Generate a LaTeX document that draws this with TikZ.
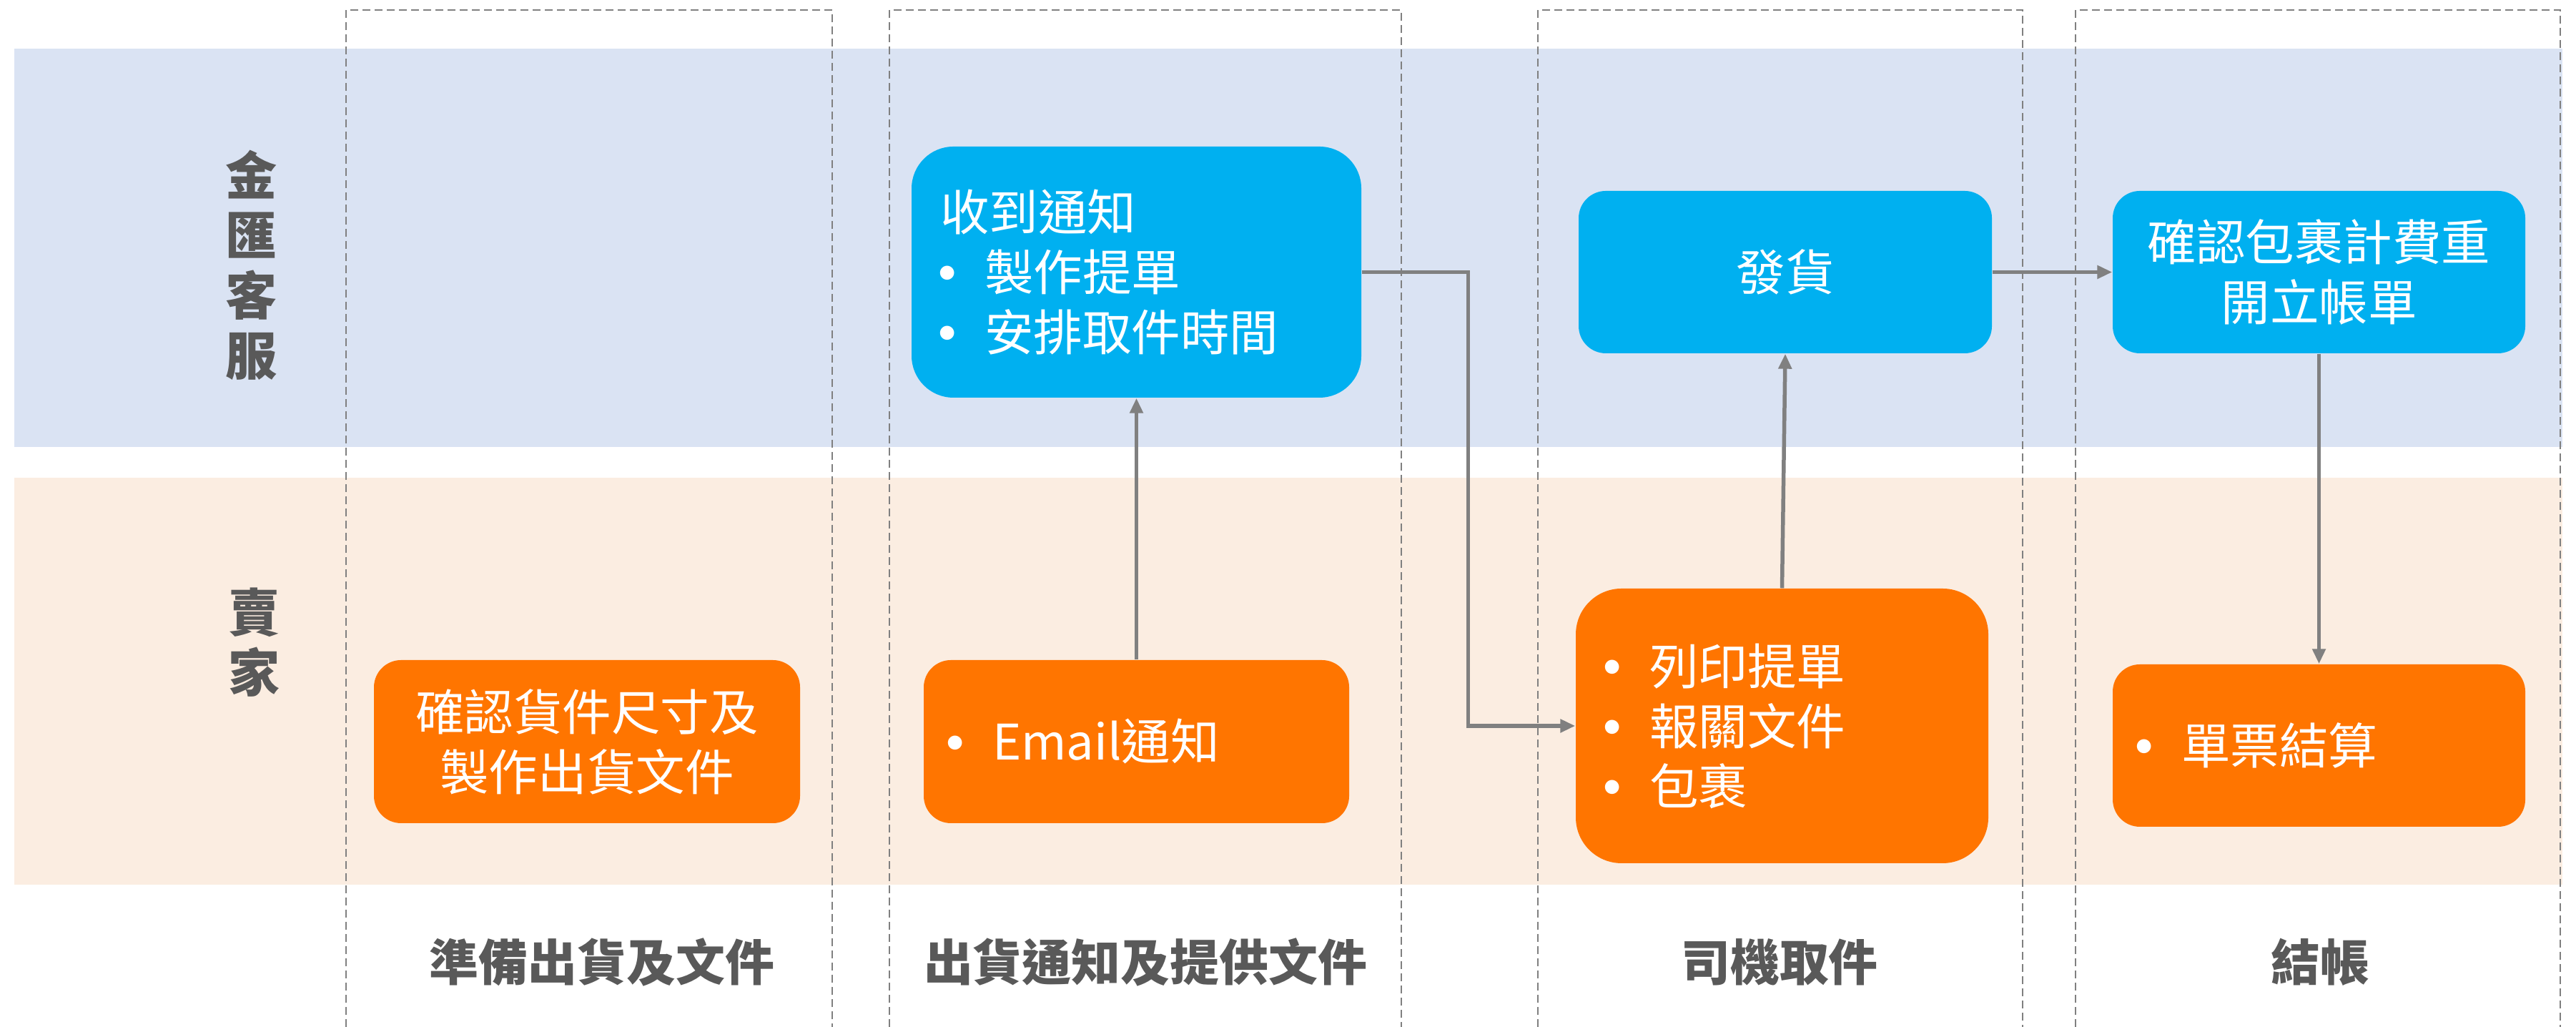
\documentclass[tikz,border=0pt]{standalone}
\usepackage{fontspec}
\setmainfont{Noto Sans CJK TC}
\usepackage{tikz}
\usetikzlibrary{arrows.meta,calc}

\definecolor{laneblue}{HTML}{DAE3F3}
\definecolor{lanepeach}{HTML}{FBEDE1}
\definecolor{boxblue}{HTML}{00B0F0}
\definecolor{boxorange}{HTML}{FF7500}
\definecolor{labelgray}{HTML}{595959}
\definecolor{linegray}{HTML}{808080}

\newcommand{\bul}{\makebox[0.62cm][l]{\hspace{-0.03cm}\raisebox{3.4pt}{\fontsize{15}{15}\selectfont$\bullet$}}}

\begin{document}
\begin{tikzpicture}[
    box/.style={text=white, font=\fontsize{19.5}{23.9}\selectfont, inner ysep=0pt},
    bluebox/.style={box, fill=boxblue},
    orangebox/.style={box, fill=boxorange},
    lane/.style={draw=linegray, line width=0.02cm, dash pattern=on 0.11cm off 0.06cm},
    flow/.style={draw=linegray, line width=0.055cm, -{Triangle[length=0.21cm,width=0.18cm]}},
    side/.style={text=labelgray, font=\fontsize{20.5}{23.9}\selectfont\bfseries, align=center},
    stage/.style={text=labelgray, font=\fontsize{19.6}{24}\selectfont\bfseries}
  ]
  \useasboundingbox (0,0) rectangle (36.03,14.36);
  % 泳道底色
  \fill[laneblue] (0.20,8.11) rectangle (35.84,13.68);
  \fill[lanepeach] (0.20,1.99) rectangle (35.84,7.68);
  % 階段虛線框
  \draw[lane] (4.84,0) |- (11.64,14.22) -- (11.64,0);
  \draw[lane] (12.44,0) |- (19.60,14.22) -- (19.60,0);
  \draw[lane] (21.51,0) |- (28.29,14.22) -- (28.29,0);
  \draw[lane] (29.03,0) |- (35.81,14.22) -- (35.81,0);
  % 角色
  \node[side] (cs) at (3.52,10.65) {金\\匯\\客\\服};
  \node[side] (seller) at (3.56,5.38) {賣\\家};
  % 步驟
  \node[orangebox, align=center, minimum width=5.96cm, minimum height=2.28cm, rounded corners=0.38cm] (prep) at (8.21,3.99) {確認貨件尺寸及\\製作出貨文件};
  \node[orangebox, align=left, text width=5.27cm, inner xsep=0.34cm, minimum height=2.28cm, rounded corners=0.38cm] (email) at (15.895,3.99) {\bul Email通知};
  \node[bluebox, align=left, text width=5.49cm, inner xsep=0.40cm, minimum height=3.51cm, rounded corners=0.585cm] (notice) at (15.895,10.555) {收到通知\\\bul 製作提單\\\bul 安排取件時間};
  \node[orangebox, align=left, text width=4.95cm, inner xsep=0.41cm, minimum height=3.84cm, rounded corners=0.64cm] (pickup) at (24.925,4.21) {\bul 列印提單\\\bul 報關文件\\\bul 包裹};
  \node[bluebox, align=center, minimum width=5.78cm, minimum height=2.27cm, rounded corners=0.38cm] (ship) at (24.97,10.555) {發貨};
  \node[bluebox, align=center, minimum width=5.77cm, minimum height=2.27cm, rounded corners=0.38cm] (weigh) at (32.435,10.555) {確認包裹計費重\\開立帳單};
  \node[orangebox, align=left, text width=5.09cm, inner xsep=0.34cm, minimum height=2.27cm, rounded corners=0.38cm] (bill) at (32.435,3.935) {\bul 單票結算};
  % 箭頭
  \draw[flow] (email.north) -- (notice.south);
  \draw[flow] (notice.east) -- ++(1.49,0) |- (pickup.west);
  \draw[flow] (pickup.north) -- (ship.south);
  \draw[flow] (ship.east) -- (weigh.west);
  \draw[flow] (weigh.south) -- (bill.north);
  % 階段名稱
  \node[stage] (s1) at (8.42,0.91) {準備出貨及文件};
  \node[stage] (s2) at (16.02,0.91) {出貨通知及提供文件};
  \node[stage] (s3) at (24.89,0.91) {司機取件};
  \node[stage] (s4) at (32.45,0.91) {結帳};
\end{tikzpicture}
\end{document}
